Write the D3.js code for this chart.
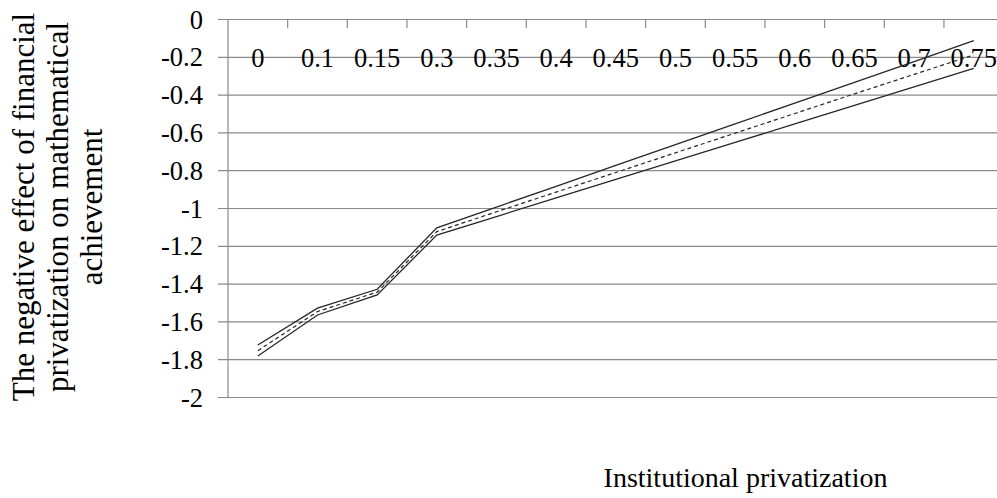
<!DOCTYPE html>
<html><head><meta charset="utf-8">
<script src="https://cdn.jsdelivr.net/npm/d3@7/dist/d3.min.js"></script>
<style>
html,body{margin:0;padding:0;background:#fff;overflow:hidden;}
svg{display:block;}
text{font-family:"Liberation Serif","Times New Roman",serif;fill:#000;}
</style></head>
<body>
<svg id="chart" width="997" height="498"></svg>
<script>
const categories = ["0","0.1","0.15","0.3","0.35","0.4","0.45","0.5","0.55","0.6","0.65","0.7","0.75"];
const upperValues = [-1.725,-1.53,-1.43,-1.105,-0.995,-0.885,-0.775,-0.665,-0.555,-0.445,-0.335,-0.225,-0.115];
const meanValues  = [-1.755,-1.548,-1.445,-1.125,-1.02,-0.916,-0.812,-0.708,-0.604,-0.50,-0.396,-0.293,-0.19];
const lowerValues = [-1.783,-1.566,-1.46,-1.143,-1.045,-0.947,-0.849,-0.751,-0.653,-0.555,-0.457,-0.359,-0.261];
const yTicks = [0,-0.2,-0.4,-0.6,-0.8,-1,-1.2,-1.4,-1.6,-1.8,-2];
const yTitleLines = ["The negative effect of financial","privatization on mathematical","achievement"];
const xTitle = "Institutional privatization";

const FONT = '"Liberation Serif","Times New Roman",serif';
const svg = d3.select("#chart");
const x = d3.scaleBand().domain(categories).range([228, 1003.6]).paddingInner(0).paddingOuter(0);
const y = d3.scaleLinear().domain([-2, 0]).range([397, 19]);
const gridColor = "#8a8a8a";

// horizontal gridlines with outward ticks
const yAxis = d3.axisLeft(y).tickValues(yTicks).tickSize(-(997-228)).tickFormat(d => String(d));
const gy = svg.append("g").attr("transform","translate(228,0)").call(yAxis)
  .attr("font-family", FONT);
gy.select(".domain").remove();
gy.selectAll(".tick line").attr("stroke", gridColor).attr("stroke-width",1.2).attr("x1",-10);
gy.selectAll(".tick text").attr("x",-25).attr("font-size",26.5).attr("dy","0.34em")
  .attr("fill","#000").style("font-family", FONT);
// vertical axis line
svg.append("line").attr("x1",228).attr("x2",228).attr("y1",y(0)).attr("y2",y(-2))
  .attr("stroke",gridColor).attr("stroke-width",1.2);

// category axis at y=0 with ticks pointing down at band boundaries
const bounds = categories.map(c => x(c)).concat([x(categories[categories.length-1]) + x.bandwidth()]);
svg.append("g").selectAll("line").data(bounds.slice(1)).join("line")
  .attr("x1", d => d).attr("x2", d => d).attr("y1", y(0)).attr("y2", y(0) + 9)
  .attr("stroke", gridColor).attr("stroke-width",1.2);
svg.append("g").selectAll("text").data(categories).join("text")
  .attr("x", d => x(d) + x.bandwidth()/2).attr("y", 67)
  .attr("text-anchor","middle").attr("font-size",26.5).style("font-family", FONT).text(d => d);

// series
const line = d3.line().x((d,i) => x(categories[i]) + x.bandwidth()/2).y(d => y(d));
svg.append("path").datum(upperValues).attr("d", line).attr("fill","none")
  .attr("stroke","#262626").attr("stroke-width",1.3);
svg.append("path").datum(lowerValues).attr("d", line).attr("fill","none")
  .attr("stroke","#262626").attr("stroke-width",1.3);
svg.append("path").datum(meanValues).attr("d", line).attr("fill","none")
  .attr("stroke","#262626").attr("stroke-width",1.2).attr("stroke-dasharray","4,3");

// y title
const yt = svg.append("text").attr("transform","translate(0,207) rotate(-90)")
  .attr("text-anchor","middle").attr("font-size",31).style("font-family", FONT);
yTitleLines.forEach((t,i) => yt.append("tspan").attr("x",0).attr("y",34 + i*34).text(t));

// x title
svg.append("text").attr("x",745.5).attr("y",487).attr("text-anchor","middle")
  .attr("font-size",28).style("font-family", FONT).text(xTitle);
</script>
</body></html>
